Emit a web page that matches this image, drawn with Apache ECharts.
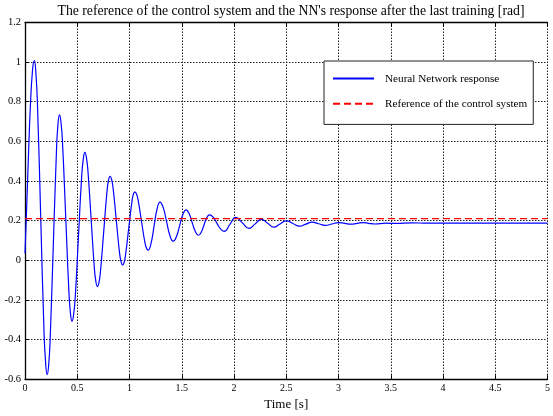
<!DOCTYPE html>
<html>
<head>
<meta charset="utf-8">
<script src="https://cdn.jsdelivr.net/npm/echarts@6/dist/echarts.min.js"></script>
<style>
  html, body { margin: 0; padding: 0; background: #fff; }
  #chart { width: 553px; height: 416px; }
</style>
</head>
<body>
<div id="chart"></div>
<script>
// Time samples [s] of the network output
const timeS = [
  0, 0.016, 0.032, 0.05, 0.072, 0.089, 0.104,
  0.12, 0.1505, 0.181, 0.197, 0.212, 0.227,
  0.2415, 0.271, 0.3005, 0.315, 0.33, 0.345,
  0.36, 0.39, 0.42, 0.435, 0.45, 0.465,
  0.481, 0.5115, 0.542, 0.558, 0.573, 0.588,
  0.603, 0.633, 0.663, 0.678, 0.693, 0.708,
  0.723, 0.7535, 0.784, 0.799, 0.814, 0.829,
  0.844, 0.874, 0.904, 0.919, 0.934, 0.949,
  0.963, 0.9925, 1.022, 1.036, 1.051, 1.067,
  1.083, 1.1145, 1.146, 1.162, 1.178,
  1.2065, 1.235, 1.2635, 1.292,
  1.3235, 1.355, 1.3865, 1.418,
  1.449, 1.48, 1.511, 1.542,
  1.571, 1.6, 1.63, 1.659,
  1.686, 1.7125, 1.739, 1.766,
  1.801, 1.836, 1.871, 1.906,
  1.961, 2.016, 2.08, 2.143,
  2.203, 2.263, 2.322, 2.381,
  2.44, 2.5, 2.563, 2.627,
  2.687, 2.747, 2.81, 2.874,
  2.937, 3.0, 3.06, 3.12,
  3.178, 3.235, 3.29, 3.35,
  3.45, 3.55, 3.7, 3.85, 4.0, 4.5, 5.0
];
// Neural network response [rad]
const nnResponse = [
  0.035, 0.27, 0.51, 0.76, 0.96, 1.008, 0.948,
  0.776, 0.2155, -0.345, -0.517, -0.577, -0.527,
  -0.386, 0.0785, 0.543, 0.684, 0.734, 0.694,
  0.582, 0.213, -0.156, -0.268, -0.308, -0.276,
  -0.184, 0.118, 0.42, 0.512, 0.544, 0.518,
  0.445, 0.2055, -0.034, -0.107, -0.133, -0.112,
  -0.052, 0.1455, 0.343, 0.403, 0.424, 0.407,
  0.359, 0.2, 0.041, -0.007, -0.024, -0.01,
  0.03, 0.1605, 0.291, 0.331, 0.345, 0.334,
  0.302, 0.198, 0.094, 0.062, 0.051,
  0.086, 0.172, 0.258, 0.293,
  0.264, 0.1945, 0.125, 0.096,
  0.119, 0.175, 0.231, 0.254,
  0.235, 0.19, 0.145, 0.126,
  0.141, 0.1775, 0.214, 0.229,
  0.217, 0.1875, 0.158, 0.146,
  0.181, 0.216, 0.1885, 0.161,
  0.1835, 0.206, 0.1865, 0.167,
  0.183, 0.199, 0.1855, 0.172,
  0.182, 0.192, 0.184, 0.176,
  0.183, 0.19, 0.186, 0.182,
  0.186, 0.19, 0.1865, 0.183,
  0.187, 0.186, 0.189, 0.187, 0.187, 0.187, 0.187
];
// Reference of the control system [rad]
const refTime = [0, 5];
const refValue = [0.21, 0.21];

const xTicks = { min: 0, max: 5, step: 0.5 };
const yTicks = { min: -0.6, max: 1.2, step: 0.2 };

const serif = 'Liberation Serif, Times New Roman, serif';

const nnData = timeS.map((t, i) => [t, nnResponse[i]]);
const refData = refTime.map((t, i) => [t, refValue[i]]);

const fmt = v => String(Math.round(v * 1000) / 1000);

const chart = echarts.init(document.getElementById('chart'), null, { renderer: 'canvas' });
chart.setOption({
  animation: false,
  backgroundColor: '#fff',
  title: {
    text: "The reference of the control system and the NN's response after the last training [rad]",
    left: 291,
    textAlign: 'center',
    top: 4,
    padding: 0,
    textStyle: { fontFamily: serif, fontSize: 13.7, fontWeight: 'normal', color: '#000' }
  },
  grid: { left: 25, right: 1.5, top: 22.5, bottom: 33.5, containLabel: false },
  legend: {
    orient: 'vertical',
    left: 324,
    top: 61,
    backgroundColor: '#fff',
    borderColor: '#222',
    borderWidth: 1,
    borderRadius: 0,
    padding: [12, 6, 15, 8],
    itemWidth: 41,
    itemHeight: 14,
    itemGap: 14,
    itemStyle: { opacity: 0 },
    textStyle: { fontFamily: serif, fontSize: 11.2, color: '#000', padding: [0, 0, 0, 6] },
    data: ['Neural Network response', 'Reference of the control system']
  },
  xAxis: [
    {
      type: 'value',
      min: xTicks.min, max: xTicks.max, interval: xTicks.step,
      name: 'Time [s]',
      nameLocation: 'middle',
      nameGap: 16,
      nameTextStyle: { fontFamily: serif, fontSize: 13, color: '#000' },
      axisLine: { onZero: false, lineStyle: { color: '#000', width: 1.3 } },
      axisTick: { inside: true, length: 4, lineStyle: { color: '#000' } },
      axisLabel: { fontFamily: serif, fontSize: 10, color: '#000', margin: 4, formatter: fmt },
      splitLine: { show: true, lineStyle: { color: '#222', type: [1.5, 1.5], width: 1 } }
    },
    {
      type: 'value',
      position: 'top',
      min: xTicks.min, max: xTicks.max, interval: xTicks.step,
      axisLine: { onZero: false, lineStyle: { color: '#000', width: 1.3 } },
      axisTick: { inside: true, length: 4, lineStyle: { color: '#000' } },
      axisLabel: { show: false },
      splitLine: { show: false }
    }
  ],
  yAxis: {
    type: 'value',
    min: yTicks.min, max: yTicks.max, interval: yTicks.step,
    axisLine: { onZero: false, lineStyle: { color: '#000', width: 1.3 } },
    axisTick: { inside: true, length: 4, lineStyle: { color: '#000' } },
    axisLabel: { fontFamily: serif, fontSize: 10.5, color: '#000', margin: 4, formatter: fmt },
    splitLine: { show: true, lineStyle: { color: '#222', type: [1.5, 1.5], width: 1 } }
  },
  series: [
    {
      name: 'Neural Network response',
      type: 'line',
      data: nnData,
      smooth: 0.5,
      symbol: 'none',
      lineStyle: { color: '#0000ff', width: 1.2 },
      itemStyle: { color: '#0000ff' }
    },
    {
      name: 'Reference of the control system',
      type: 'line',
      data: refData,
      symbol: 'none',
      lineStyle: { color: '#ff0000', width: 1.4, type: [7, 4] },
      itemStyle: { color: '#ff0000' }
    }
  ]
});
</script>
</body>
</html>
